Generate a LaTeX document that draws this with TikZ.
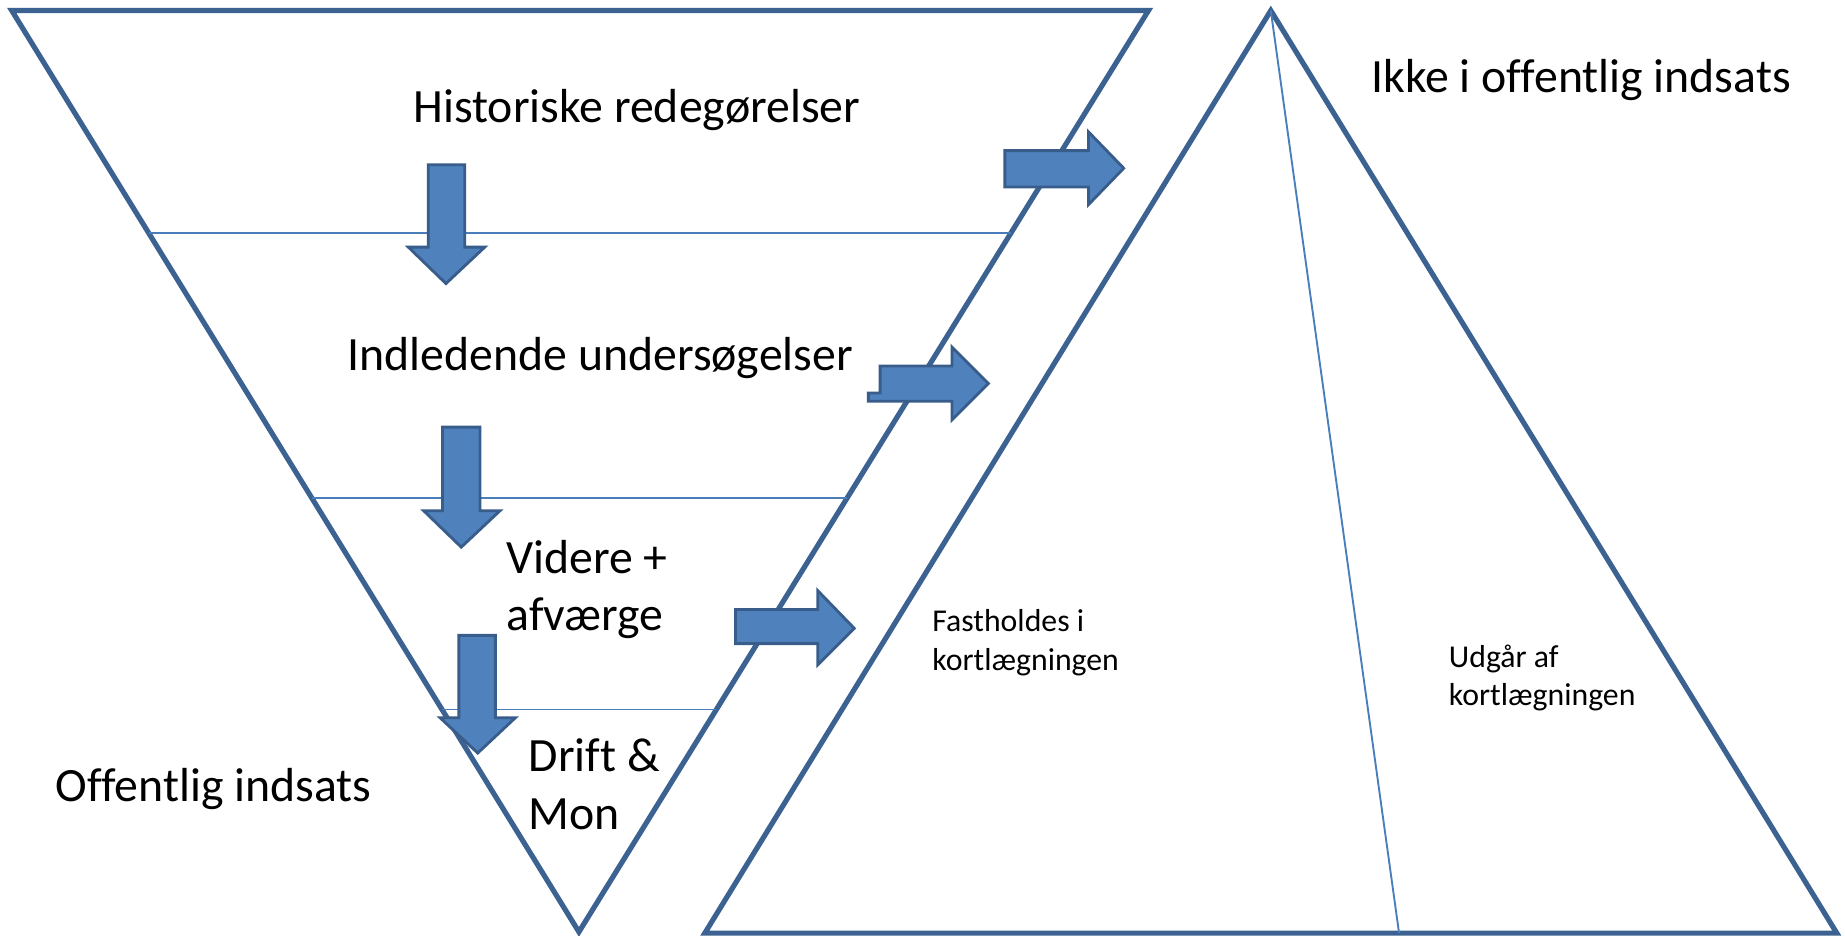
\documentclass[tikz,border=0pt]{standalone}
\usepackage{fontspec}
\setmainfont{Carlito}[Ligatures={NoCommon}]
\usetikzlibrary{calc}
\definecolor{edgeblue}{HTML}{3B6290}
\definecolor{thinblue}{HTML}{4A7EBB}
\definecolor{arrfill}{HTML}{4F81BD}
\definecolor{arrdraw}{HTML}{385D8A}
\begin{document}
\begin{tikzpicture}[x=0.5pt,y=-0.5pt,
  bigedge/.style={draw=edgeblue,line width=2.2pt,line join=miter,fill=white},
  divider/.style={draw=thinblue,line width=0.8pt},
  blockarr/.style={fill=arrfill,draw=arrdraw,line width=1.2pt,line join=miter},
  bigtxt/.style={font=\fontsize{20.3}{24}\selectfont,inner sep=0pt,anchor=base west},
  smalltxt/.style={font=\fontsize{13.5}{17}\selectfont,inner sep=0pt,anchor=base west}]
\useasboundingbox (0,0) rectangle (1568,795);
% inverted triangle
\coordinate (TL) at (10,9);
\coordinate (TR) at (976,9);
\coordinate (TB) at (492,792);
\draw[bigedge] (TL) -- (TR) -- (TB) -- cycle;
\draw[divider] ($(TL)!0.2414!(TB)$) -- ($(TR)!0.2414!(TB)$);
\draw[divider] ($(TL)!0.5287!(TB)$) -- ($(TR)!0.5287!(TB)$);
\draw[divider] ($(TL)!0.7586!(TB)$) -- ($(TR)!0.7586!(TB)$);
% upright triangle
\coordinate (PA) at (1080,9);
\coordinate (PL) at (599,793);
\coordinate (PR) at (1561,793);
\coordinate (PM) at (1189,793);
\draw[bigedge] (PA) -- (PR) -- (PL) -- cycle;
\draw[divider] (PA) -- (PM);
% down arrows
\draw[blockarr] (364,140) -- (395,140) -- (395,210) -- (412,210) -- (379,241) -- (347,210) -- (364,210) -- cycle;
\draw[blockarr] (376,363) -- (408,363) -- (408,434) -- (425,434) -- (392,465) -- (360,434) -- (376,434) -- cycle;
\draw[blockarr] (390,540) -- (421,540) -- (421,610) -- (438,610) -- (406,640) -- (374,610) -- (390,610) -- cycle;
% right arrows
\draw[blockarr] (854,128) -- (925,128) -- (925,112) -- (955,143) -- (925,174) -- (925,159) -- (854,159) -- cycle;
\draw[blockarr] (748,311) -- (809,311) -- (809,295) -- (840,326) -- (809,357) -- (809,341) -- (738,341) -- (738,334) -- (748,334) -- cycle;
\draw[blockarr] (625,518) -- (695,518) -- (695,502) -- (726,534) -- (695,565) -- (695,547) -- (625,547) -- cycle;
% texts
\node[bigtxt] (hist) at (351,104) {Historiske redegørelser};
\node[bigtxt] (indl) at (295,315) {Indledende undersøgelser};
\node[bigtxt] (vid1) at (430,487) {Videre +};
\node[bigtxt] (vid2) at (430,536) {afværge};
\node[bigtxt] (drf1) at (449,656) {Drift \&};
\node[bigtxt] (drf2) at (449,705) {Mon};
\node[bigtxt] (offi) at (47,681) {Offentlig indsats};
\node[bigtxt] (ikke) at (1165,79) {Ikke i offentlig indsats};
\node[smalltxt] (fas1) at (792,537) {Fastholdes i};
\node[smalltxt] (fas2) at (792,570) {kortlægningen};
\node[smalltxt] (udg1) at (1231,567) {Udgår af};
\node[smalltxt] (udg2) at (1231,600) {kortlægningen};
\end{tikzpicture}
\end{document}
